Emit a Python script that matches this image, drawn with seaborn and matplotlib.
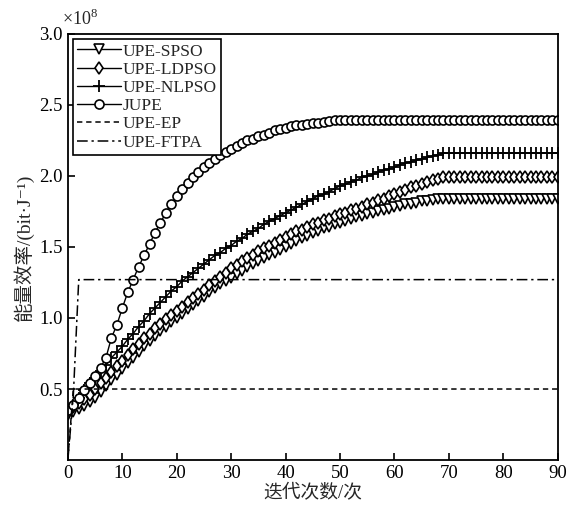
import numpy as np
import pandas as pd
import matplotlib
matplotlib.use("Agg")
import matplotlib.pyplot as plt
import seaborn as sns

# iterations and energy efficiency (x1e8 bit/J)
iters = list(range(91))

upe_spso = [0.32, 0.34, 0.36, 0.38, 0.41, 0.44, 0.48, 0.52, 0.56, 0.60,
            0.64, 0.68, 0.72, 0.76, 0.80, 0.84, 0.87, 0.91, 0.94, 0.97,
            1.00, 1.03, 1.06, 1.09, 1.12, 1.15, 1.18, 1.21, 1.24, 1.26,
            1.28, 1.31, 1.33, 1.36, 1.38, 1.40, 1.42, 1.44, 1.46, 1.48,
            1.50, 1.52, 1.54, 1.56, 1.58, 1.60, 1.61, 1.63, 1.64, 1.66,
            1.67, 1.68, 1.70, 1.71, 1.72, 1.73, 1.74, 1.75, 1.76, 1.77,
            1.78, 1.79, 1.80, 1.80, 1.81, 1.82, 1.82, 1.83, 1.84, 1.84] + [1.84] * 21

upe_ldpso = [0.35, 0.37, 0.40, 0.43, 0.46, 0.50, 0.54, 0.58, 0.62, 0.66,
             0.70, 0.74, 0.78, 0.82, 0.86, 0.89, 0.93, 0.96, 0.99, 1.02,
             1.05, 1.08, 1.11, 1.14, 1.17, 1.20, 1.23, 1.26, 1.29, 1.32,
             1.35, 1.37, 1.40, 1.42, 1.44, 1.47, 1.49, 1.51, 1.53, 1.55,
             1.57, 1.59, 1.61, 1.62, 1.64, 1.66, 1.67, 1.69, 1.70, 1.72,
             1.73, 1.74, 1.76, 1.77, 1.78, 1.80, 1.81, 1.83, 1.84, 1.86,
             1.87, 1.89, 1.90, 1.92, 1.93, 1.94, 1.96, 1.97, 1.98, 1.99] + [1.99] * 21

upe_nlpso = [0.35, 0.39, 0.44, 0.49, 0.54, 0.58, 0.63, 0.67, 0.72, 0.76,
             0.80, 0.85, 0.89, 0.94, 0.98, 1.03, 1.07, 1.11, 1.15, 1.19,
             1.22, 1.26, 1.29, 1.32, 1.35, 1.38, 1.41, 1.44, 1.46, 1.49,
             1.51, 1.54, 1.56, 1.59, 1.61, 1.63, 1.66, 1.68, 1.70, 1.72,
             1.74, 1.76, 1.78, 1.80, 1.82, 1.84, 1.86, 1.87, 1.89, 1.91,
             1.93, 1.94, 1.96, 1.97, 1.99, 2.00, 2.01, 2.03, 2.04, 2.05,
             2.06, 2.08, 2.09, 2.10, 2.11, 2.12, 2.13, 2.14, 2.15, 2.16] + [2.16] * 21

jupe = [0.35, 0.39, 0.44, 0.49, 0.54, 0.59, 0.65, 0.72, 0.86, 0.95,
        1.07, 1.18, 1.27, 1.36, 1.44, 1.52, 1.60, 1.67, 1.74, 1.80,
        1.86, 1.91, 1.95, 1.99, 2.03, 2.06, 2.09, 2.12, 2.15, 2.17,
        2.19, 2.21, 2.23, 2.25, 2.26, 2.28, 2.29, 2.30, 2.32, 2.33,
        2.34, 2.35, 2.355, 2.36, 2.365, 2.37, 2.375, 2.38, 2.385, 2.39] + [2.39] * 41

upe_ep = [0.0] + [0.5] * 90
upe_ftpa = [0.0, 0.45] + [1.27] * 89

sns.set_theme(style="ticks")
plt.rcParams['font.family'] = ['Liberation Serif', 'Noto Sans CJK SC', 'DejaVu Sans']
plt.rcParams['mathtext.fontset'] = 'custom'
plt.rcParams['mathtext.rm'] = 'Liberation Serif'
plt.rcParams['axes.linewidth'] = 1.3

fig = plt.figure(figsize=(5.75, 5.05), dpi=100)
ax = fig.add_axes([0.118, 0.089, 0.852, 0.844])

mk = dict(color='black', linewidth=1.0, linestyle='-', markersize=6.5,
          markerfacecolor='white', markeredgecolor='black', markeredgewidth=1.2)
sns.lineplot(x=iters, y=upe_spso, ax=ax, marker='v', label='UPE-SPSO', **mk)
sns.lineplot(x=iters, y=upe_ldpso, ax=ax, marker='d', label='UPE-LDPSO', **mk)
sns.lineplot(x=iters, y=upe_nlpso, ax=ax, marker='+', label='UPE-NLPSO',
             color='black', linewidth=1.0, linestyle='-', markersize=9,
             markeredgecolor='black', markeredgewidth=1.3)
sns.lineplot(x=iters, y=jupe, ax=ax, marker='o', label='JUPE', **mk)
sns.lineplot(x=iters, y=upe_ep, ax=ax, color='black', linewidth=1.1,
             linestyle=(0, (3.5, 2.5)), label='UPE-EP')
sns.lineplot(x=iters, y=upe_ftpa, ax=ax, color='black', linewidth=1.1,
             linestyle=(0, (7, 2.5, 1.5, 2.5)), label='UPE-FTPA')

ax.set_xlim(0, 90)
ax.set_ylim(0, 3.0)
ax.set_xticks(range(0, 91, 10))
ax.set_yticks([0.5, 1.0, 1.5, 2.0, 2.5, 3.0])
ax.set_yticklabels(['0.5', '1.0', '1.5', '2.0', '2.5', '3.0'])
ax.tick_params(direction='in', length=5, width=1.2, labelsize=13.5,
               colors='black', top=False, right=False)
for s in ax.spines.values():
    s.set_visible(True)
    s.set_color('black')

ax.set_xlabel('迭代次数/次', fontsize=13.5, labelpad=2)
ax.set_ylabel('能量效率/(bit·J⁻¹)', fontsize=14, labelpad=4)
ax.text(-0.012, 1.012, r'×10$^{8}$', transform=ax.transAxes, fontsize=13,
        ha='left', va='bottom')

leg = ax.legend(loc='upper left', fontsize=12.5, handlelength=2.5,
                handletextpad=0.1, labelspacing=0.12, borderpad=0.25,
                borderaxespad=0.3, fancybox=False, framealpha=1)
leg.get_frame().set_edgecolor('black')
leg.get_frame().set_linewidth(1.2)

fig.savefig('out.png', dpi=100)
